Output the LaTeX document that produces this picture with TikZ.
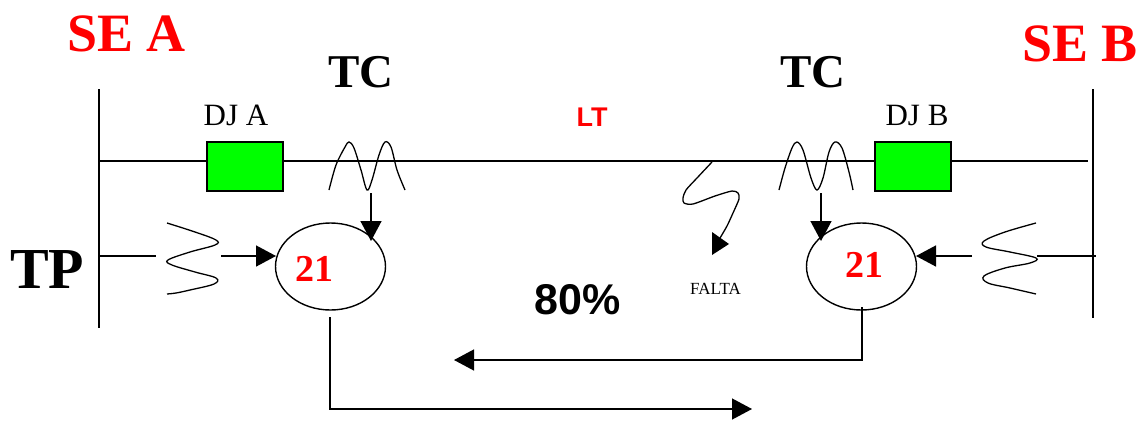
\documentclass[tikz,border=0pt]{standalone}
\usepackage{fontspec}
\setmainfont{Liberation Serif}
\setsansfont{Liberation Sans}
\usetikzlibrary{arrows.meta,shapes.geometric}
\definecolor{brkgreen}{RGB}{0,255,0}
\tikzset{
  x=1pt,y=-1pt,
  wire/.style={line width=1.5pt,black},
  coil/.style={line width=1.3pt,black},
  arrowed/.style={wire,-{Triangle[length=20pt,width=21pt]},shorten >=0pt},
  breaker/.style={draw=black,line width=1.6pt,fill=brkgreen,minimum width=76pt,minimum height=49pt,inner sep=0pt},
  relay/.style={draw=black,ellipse,line width=1.4pt,minimum width=110pt,minimum height=87pt,inner sep=0pt},
  redbig/.style={red,font=\bfseries\fontsize{54}{54}\selectfont,inner sep=0pt},
  blackbig/.style={black,font=\bfseries\fontsize{47}{47}\selectfont,inner sep=0pt},
  relaytxt/.style={red,font=\bfseries\fontsize{38}{38}\selectfont,inner sep=0pt},
  plain/.style={black,font=\fontsize{31}{31}\selectfont,inner sep=0pt},
}
\begin{document}
\begin{tikzpicture}
\useasboundingbox (0,0) rectangle (1146,421);
% buses
\coordinate (busAt) at (99,89); \coordinate (busAb) at (99,328);
\coordinate (busBt) at (1093,89); \coordinate (busBb) at (1093,318);
\draw[wire] (busAt) -- (busAb);
\draw[wire] (busBt) -- (busBb);
% line
\coordinate (lineA) at (99,161); \coordinate (lineB) at (1088,161);
\draw[wire] (lineA) -- (lineB);
\node[breaker] (dja) at (245,166.5) {};
\node[breaker] (djb) at (913,166.5) {};
% CT
\draw[coil] plot[smooth,tension=.55] coordinates {(329,190) (336,165) (345,147) (349,142) (354,148) (361,170) (367,190) (372,180) (379,155) (385,142) (391,147) (397,170) (405,190)};
\draw[coil] plot[smooth,tension=.55] coordinates {(779,190) (785,168) (792,148) (797,142) (803,150) (811,178) (817,190) (823,178) (829,152) (835,142) (842,148) (849,172) (853,190)};
% PT
\draw[coil] plot[smooth,tension=.6] coordinates {(167,223) (195,232) (216,240) (215,245) (190,252) (168,260) (172,265) (195,272) (216,278) (214,284) (190,290) (176,293) (167,294)};
\draw[coil] plot[smooth,tension=.6] coordinates {(1036,223) (1005,232) (984,241) (986,247) (1010,252) (1036,258) (1030,263) (1005,268) (984,276) (988,283) (1010,288) (1036,294)};
% relays
\node[relay] (ra) at (330.5,266.5) {};
\node[relay] (rb) at (861.5,266.5) {};
\node[relaytxt] (ra21) at (314,269) {21};
\node[relaytxt] (rb21) at (864,265) {21};
% connectors
\coordinate (ctA) at (371,193); \coordinate (ctB) at (821,193);
\coordinate (raTip) at (371,241); \coordinate (rbTip) at (821,241);
\draw[arrowed] (ctA) -- (raTip);
\draw[arrowed] (ctB) -- (rbTip);
\coordinate (ptAin) at (221,256); \coordinate (ptBin) at (972,256);
\draw[arrowed] (ptAin) -- (276,256);
\draw[arrowed] (ptBin) -- (916,256);
\coordinate (pa1) at (99,256); \coordinate (pa2) at (156,256);
\draw[wire] (pa1) -- (pa2);
\coordinate (pb1) at (1037,256); \coordinate (pb2) at (1096,256);
\draw[wire] (pb1) -- (pb2);
% trip paths
\coordinate (ta0) at (330,317); \coordinate (ta1) at (330,409); \coordinate (ta2) at (752,409);
\draw[arrowed,line width=1.3pt] (ta0) -- (ta1) -- (ta2);
\coordinate (tb0) at (862,307); \coordinate (tb1) at (862,360); \coordinate (tb2) at (454,360);
\draw[arrowed,line width=1.3pt] (tb0) -- (tb1) -- (tb2);
% fault
\coordinate (f0) at (712,162); \coordinate (f1) at (720,238);
\draw[coil] plot[smooth,tension=.45] coordinates {(f0) (697,178) (686,190) (683,198) (684,203) (693,204) (715,196) (732,191) (738,193) (739,199) (733,213) (727,226) (f1)};
\fill[black] (712,232) -- (729,244) -- (712,255) -- cycle;
% texts
\node[redbig,anchor=base west] (sea) at (67,51) {SE A};
\node[redbig,anchor=base east] (seb) at (1138,61) {SE B};
\node[blackbig,anchor=base] (tca) at (361,87) {TC};
\node[blackbig,anchor=base] (tcb) at (813,87) {TC};
\node[blackbig,anchor=base west,font=\bfseries\fontsize{58}{58}\selectfont] (tp) at (10,288) {TP};
\node[plain,anchor=base] (dalbl) at (236,125) {DJ A};
\node[plain,anchor=base] (dblbl) at (917,125) {DJ B};
\node[red,anchor=base,inner sep=0pt,font=\sffamily\bfseries\fontsize{27}{27}\selectfont] (lt) at (592,126) {LT};
\node[black,anchor=base,inner sep=0pt,font=\sffamily\bfseries\fontsize{43}{43}\selectfont] (pct) at (578,314) {80\%};
\node[black,anchor=base,inner sep=0pt,font=\fontsize{17}{17}\selectfont] (falta) at (715.5,294) {FALTA};
\end{tikzpicture}
\end{document}
